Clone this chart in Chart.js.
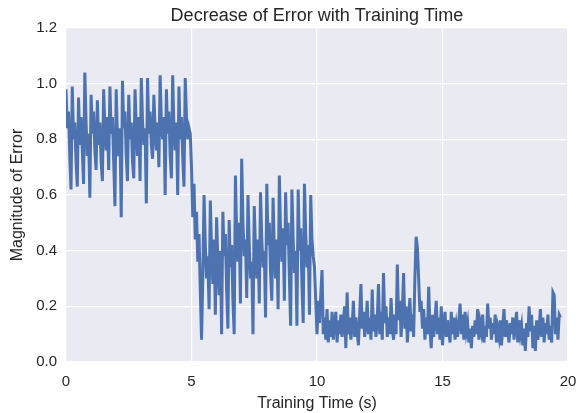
<!DOCTYPE html>
<html>
<head>
<meta charset="utf-8">
<script src="https://cdn.jsdelivr.net/npm/chart.js@4"></script>
<style>
  html, body { margin: 0; padding: 0; background: #fff; }
  #wrap { width: 580px; height: 413px; }
</style>
</head>
<body>
<div id="wrap"><canvas id="line-chart"></canvas></div>
<script>
const DT = 0.05;

// error readings, one every 0.05 s
const ERR_0_5 = [
  0.98, 0.84, 0.90, 0.74, 0.62, 0.99, 0.80, 0.86, 0.72, 0.63,
  0.95, 0.78, 0.88, 0.76, 0.64, 1.04, 0.86, 0.74, 0.82, 0.59,
  0.96, 0.82, 0.90, 0.76, 0.69, 0.94, 0.78, 0.86, 0.72, 0.65,
  0.98, 0.84, 0.76, 0.88, 0.69, 0.99, 0.82, 0.88, 0.72, 0.56,
  0.98, 0.80, 0.74, 0.84, 0.52, 1.01, 0.84, 0.90, 0.74, 0.65,
  0.96, 0.80, 0.86, 0.72, 0.66, 0.98, 0.84, 0.74, 0.88, 0.65,
  1.02, 0.86, 0.78, 0.84, 0.57, 1.02, 0.82, 0.90, 0.78, 0.73,
  0.96, 0.84, 0.76, 0.86, 0.70, 1.03, 0.86, 0.80, 0.88, 0.60,
  0.98, 0.82, 0.90, 0.74, 0.66, 1.03, 0.84, 0.76, 0.86, 0.60,
  0.99, 0.80, 0.88, 0.74, 0.63, 1.02, 0.88, 0.80, 0.84, 0.82
];
const ERR_5_10 = [
  0.70, 0.52, 0.64, 0.44, 0.54, 0.36, 0.46, 0.26, 0.08, 0.30,
  0.60, 0.42, 0.30, 0.38, 0.19, 0.58, 0.40, 0.28, 0.44, 0.17,
  0.52, 0.36, 0.24, 0.40, 0.10, 0.54, 0.38, 0.46, 0.26, 0.12,
  0.51, 0.34, 0.42, 0.22, 0.10, 0.67, 0.46, 0.36, 0.50, 0.21,
  0.73, 0.50, 0.38, 0.44, 0.23, 0.60, 0.42, 0.30, 0.36, 0.10,
  0.56, 0.40, 0.30, 0.44, 0.21, 0.61, 0.44, 0.34, 0.40, 0.16,
  0.64, 0.42, 0.50, 0.32, 0.22, 0.59, 0.40, 0.30, 0.44, 0.19,
  0.67, 0.46, 0.36, 0.48, 0.22, 0.61, 0.42, 0.50, 0.30, 0.13,
  0.62, 0.44, 0.32, 0.40, 0.13, 0.62, 0.40, 0.48, 0.28, 0.14,
  0.64, 0.46, 0.34, 0.42, 0.17, 0.60, 0.44, 0.38, 0.34, 0.22
];
const ERR_10_15 = [
  0.10, 0.22, 0.14, 0.24, 0.33, 0.10, 0.16, 0.08, 0.19, 0.07,
  0.15, 0.09, 0.18, 0.08, 0.14, 0.18, 0.07, 0.15, 0.10, 0.17,
  0.09, 0.14, 0.20, 0.05, 0.25, 0.10, 0.16, 0.08, 0.13, 0.22,
  0.09, 0.16, 0.11, 0.06, 0.17, 0.28, 0.12, 0.18, 0.09, 0.14,
  0.22, 0.10, 0.16, 0.08, 0.26, 0.11, 0.17, 0.09, 0.15, 0.28,
  0.10, 0.18, 0.08, 0.32, 0.14, 0.20, 0.09, 0.16, 0.10, 0.23,
  0.12, 0.08, 0.17, 0.10, 0.35, 0.15, 0.22, 0.09, 0.18, 0.32,
  0.12, 0.20, 0.07, 0.15, 0.23, 0.11, 0.17, 0.09, 0.30, 0.45,
  0.41, 0.30, 0.18, 0.22, 0.12, 0.19, 0.08, 0.16, 0.10, 0.27,
  0.12, 0.05, 0.17, 0.09, 0.15, 0.22, 0.10, 0.16, 0.08, 0.20
];
const ERR_15_20 = [
  0.06, 0.14, 0.18, 0.09, 0.15, 0.11, 0.07, 0.18, 0.10, 0.16,
  0.08, 0.13, 0.09, 0.15, 0.21, 0.10, 0.17, 0.08, 0.18, 0.11,
  0.14, 0.07, 0.12, 0.05, 0.13, 0.09, 0.15, 0.10, 0.19, 0.08,
  0.14, 0.11, 0.17, 0.07, 0.13, 0.09, 0.21, 0.12, 0.16, 0.08,
  0.14, 0.10, 0.17, 0.07, 0.12, 0.09, 0.15, 0.06, 0.13, 0.19,
  0.09, 0.15, 0.11, 0.07, 0.14, 0.10, 0.16, 0.08, 0.13, 0.18,
  0.07, 0.15, 0.10, 0.13, 0.06, 0.12, 0.04, 0.14, 0.09, 0.20,
  0.11, 0.17, 0.05, 0.13, 0.04, 0.15, 0.08, 0.12, 0.19, 0.09,
  0.16, 0.07, 0.14, 0.10, 0.17, 0.08, 0.13, 0.07, 0.25, 0.24,
  0.10, 0.16, 0.08, 0.17, 0.16
];

const X_TICKS = [0, 5, 10, 15, 20];
const Y_TICKS = [0.0, 0.2, 0.4, 0.6, 0.8, 1.0, 1.2];

const errors = ERR_0_5.concat(ERR_5_10, ERR_10_15, ERR_15_20);
const points = errors.map((v, i) => ({ x: +(i * DT).toFixed(2), y: v }));

const FONT = "'Liberation Sans', Arial, sans-serif";
const TEXT = "#262626";

const plotBg = {
  id: "plotBg",
  beforeDraw(chart) {
    const a = chart.chartArea;
    const ctx = chart.ctx;
    ctx.save();
    ctx.fillStyle = "#EAEAF2";
    ctx.fillRect(a.left, a.top, a.right - a.left, a.bottom - a.top);
    ctx.restore();
  },
  afterDraw(chart) {
    const a = chart.chartArea;
    const ctx = chart.ctx;
    ctx.save();
    ctx.fillStyle = TEXT;
    ctx.font = "18px " + FONT;
    ctx.textAlign = "center";
    ctx.textBaseline = "middle";
    ctx.fillText("Decrease of Error with Training Time", (a.left + a.right) / 2, 16);
    ctx.restore();
  }
};

const LCHART = document.getElementById("line-chart");

let lineChart = new Chart(LCHART, {
  type: "line",
  data: {
    datasets: [
      {
        label: "Error",
        data: points,
        borderColor: "#4C72B0",
        borderWidth: 3,
        pointRadius: 0,
        fill: false,
        tension: 0,
      },
    ],
  },
  options: {
    responsive: true,
    maintainAspectRatio: false,
    animation: false,
    layout: { autoPadding: false, padding: { top: 28, right: 12, left: 0, bottom: 0 } },
    plugins: {
      legend: { display: false },
      tooltip: { enabled: false },
    },
    scales: {
      x: {
        type: "linear",
        min: 0,
        max: 20,
        afterBuildTicks: (s) => { s.ticks = X_TICKS.map((v) => ({ value: v })); },
        afterFit: (s) => { s.height = 51; s.paddingLeft = 0; s.paddingRight = 0; },
        grid: { color: "#ffffff", lineWidth: 1.2, drawTicks: false },
        border: { display: false },
        ticks: {
          color: TEXT,
          font: { family: FONT, size: 15 },
          padding: 11,
          maxRotation: 0,
          callback: (v) => String(v),
        },
        title: {
          display: true,
          text: "Training Time (s)",
          color: TEXT,
          font: { family: FONT, size: 16 },
          padding: { top: 0, bottom: 0 },
        },
      },
      y: {
        min: 0,
        max: 1.2,
        afterBuildTicks: (s) => { s.ticks = Y_TICKS.map((v) => ({ value: v })); },
        afterFit: (s) => { s.width = 66; s.paddingTop = 0; s.paddingBottom = 0; },
        grid: { color: "#ffffff", lineWidth: 1.2, drawTicks: false },
        border: { display: false },
        ticks: {
          color: TEXT,
          font: { family: FONT, size: 15 },
          padding: 9,
          callback: (v) => v.toFixed(1),
        },
        title: {
          display: true,
          text: "Magnitude of Error",
          color: TEXT,
          font: { family: FONT, size: 16 },
          padding: { top: 8, bottom: 0 },
        },
      },
    },
  },
  plugins: [plotBg],
});
</script>
</body>
</html>
